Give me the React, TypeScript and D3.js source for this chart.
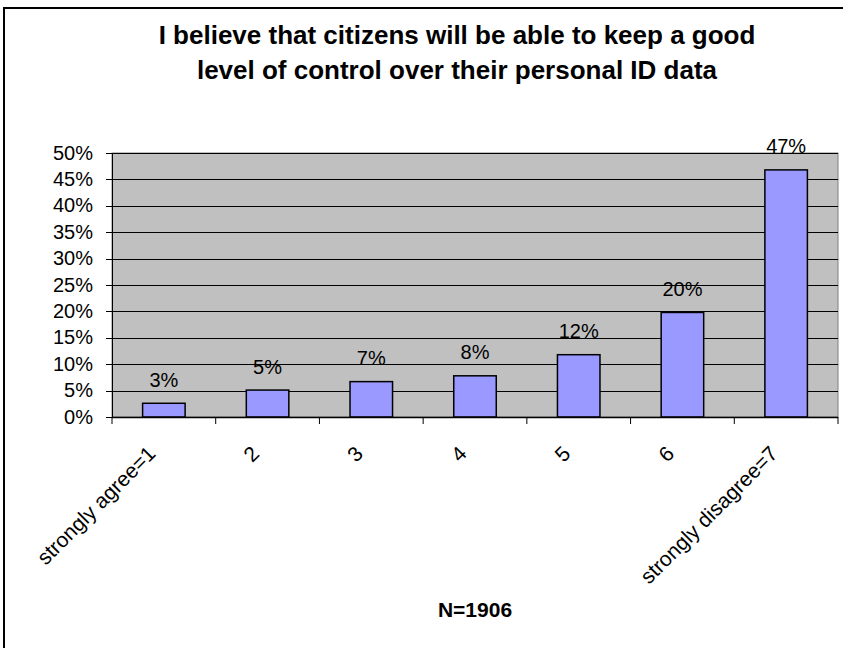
import React from "react";
import * as d3 from "d3";

const categories = ["strongly agree=1", "2", "3", "4", "5", "6", "strongly disagree=7"];
const values = [0.026, 0.051, 0.067, 0.078, 0.118, 0.198, 0.468];
const valueLabels = ["3%", "5%", "7%", "8%", "12%", "20%", "47%"];
const yTicks = [0, 0.05, 0.1, 0.15, 0.2, 0.25, 0.3, 0.35, 0.4, 0.45, 0.5];
const titleLines = [
  "I believe that citizens will be able to keep a good",
  "level of control over their personal ID data",
];
const xAxisTitle = "N=1906";

const W = 843;
const H = 648;
const plot = { left: 112, right: 838, top: 153, bottom: 417 };
const FONT = "'Liberation Sans', Arial, sans-serif";

export default function App() {
  const x = d3.scaleBand<string>().domain(categories).range([plot.left, plot.right]).padding(0);
  const y = d3.scaleLinear().domain([0, 0.5]).range([plot.bottom, plot.top]);
  const bw = x.bandwidth() * 0.41;
  const tickEdges = d3.range(categories.length + 1).map((i) => plot.left + i * x.step());

  return (
    <svg
      width={W}
      height={H}
      style={{ position: "absolute", left: 0, top: 0, background: "#fff" }}
      fontFamily={FONT}
    >
      {/* outer chart border */}
      <rect x={4} y={8} width={W + 20} height={H + 20} fill="#fff" stroke="#000" strokeWidth={2} />

      {/* title */}
      {titleLines.map((t, i) => (
        <text
          key={i}
          x={457}
          y={44 + i * 35}
          textAnchor="middle"
          fontSize={26}
          fontWeight="bold"
          fill="#000"
        >
          {t}
        </text>
      ))}

      {/* plot background */}
      <rect
        x={plot.left}
        y={plot.top}
        width={plot.right - plot.left}
        height={plot.bottom - plot.top}
        fill="#C0C0C0"
        stroke="#808080"
        strokeWidth={1}
      />

      {/* gridlines */}
      {yTicks.slice(1).map((t) => (
        <line
          key={t}
          x1={plot.left}
          x2={plot.right}
          y1={Math.round(y(t)) + 0.5}
          y2={Math.round(y(t)) + 0.5}
          stroke="#000"
          strokeWidth={1}
        />
      ))}

      {/* bars */}
      {values.map((v, i) => {
        const cx = (x(categories[i]) as number) + x.bandwidth() / 2;
        return (
          <rect
            key={i}
            x={cx - bw / 2}
            y={y(v)}
            width={bw}
            height={plot.bottom - y(v)}
            fill="#9999FF"
            stroke="#000"
            strokeWidth={1.5}
          />
        );
      })}

      {/* value labels */}
      {values.map((v, i) => {
        const cx = (x(categories[i]) as number) + x.bandwidth() / 2;
        return (
          <text key={i} x={cx} y={y(v) - 16.5} textAnchor="middle" fontSize={20} fill="#000">
            {valueLabels[i]}
          </text>
        );
      })}

      {/* y axis */}
      <line x1={plot.left + 0.5} x2={plot.left + 0.5} y1={plot.top} y2={plot.bottom} stroke="#000" strokeWidth={1} />
      {yTicks.map((t) => (
        <g key={t}>
          <line
            x1={plot.left - 6}
            x2={plot.left}
            y1={Math.round(y(t)) + 0.5}
            y2={Math.round(y(t)) + 0.5}
            stroke="#000"
          />
          <text x={93} y={y(t) + 6.5} textAnchor="end" fontSize={20} fill="#000">
            {d3.format(".0%")(t)}
          </text>
        </g>
      ))}

      {/* x axis */}
      <line x1={plot.left} x2={plot.right} y1={plot.bottom + 0.5} y2={plot.bottom + 0.5} stroke="#000" strokeWidth={1.5} />
      {tickEdges.map((e, i) => (
        <line key={i} x1={e} x2={e} y1={plot.bottom} y2={plot.bottom + 7} stroke="#000" />
      ))}
      {categories.map((c) => {
        const cx = (x(c) as number) + x.bandwidth() / 2;
        const px = cx - 7;
        const py = 455;
        return (
          <text
            key={c}
            x={px}
            y={py}
            textAnchor="end"
            fontSize={21}
            fill="#000"
            transform={`rotate(-45, ${px}, ${py})`}
          >
            {c}
          </text>
        );
      })}

      {/* x axis title */}
      <text x={475} y={617} textAnchor="middle" fontSize={21} fontWeight="bold" fill="#000">
        {xAxisTitle}
      </text>
    </svg>
  );
}
